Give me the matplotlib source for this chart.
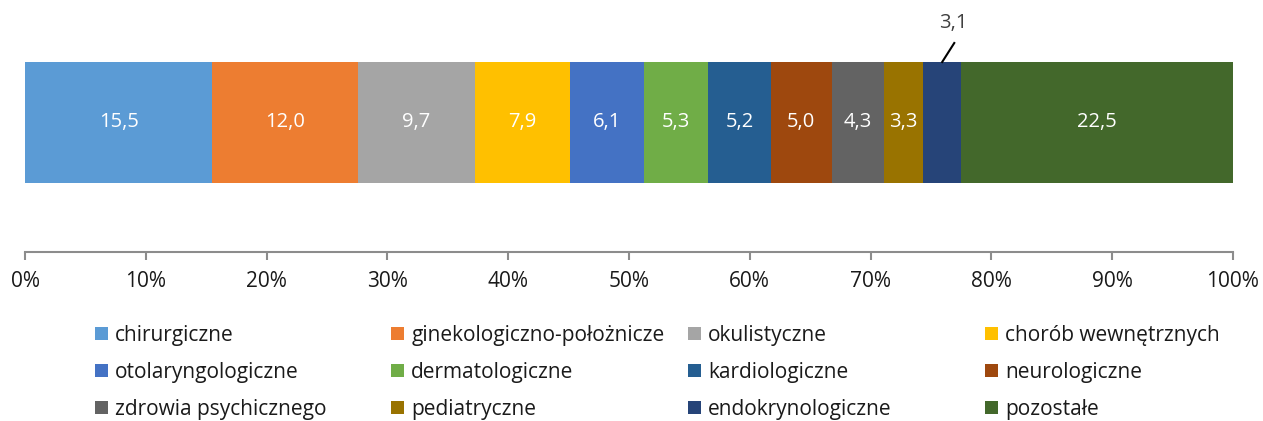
import matplotlib.pyplot as plt
from matplotlib.patches import Patch
from matplotlib.ticker import PercentFormatter

# ---------- Data ----------
categories = ["chirurgiczne", "ginekologiczno-położnicze", "okulistyczne", "chorób wewnętrznych",
              "otolaryngologiczne", "dermatologiczne", "kardiologiczne", "neurologiczne",
              "zdrowia psychicznego", "pediatryczne", "endokrynologiczne", "pozostałe"]
values = [15.5, 12.0, 9.7, 7.9, 6.1, 5.3, 5.2, 5.0, 4.3, 3.3, 3.1, 22.5]
colors = ["#5B9BD5", "#ED7D31", "#A5A5A5", "#FFC000", "#4472C4", "#70AD47",
          "#255E91", "#9E480E", "#636363", "#997300", "#264478", "#43682B"]
xticks = [0, 10, 20, 30, 40, 50, 60, 70, 80, 90, 100]

plt.rcParams['font.family'] = ['Open Sans', 'DejaVu Sans']

W, H = 1263, 421
fig = plt.figure(figsize=(W / 100, H / 100), dpi=100)
# axes: x from px 25..1233, y from px 0..252 (bottom spine at 252)
ax = fig.add_axes([25 / W, (H - 252) / H, (1233 - 25) / W, 252 / H])
ax.set_xlim(0, 100)
ax.set_ylim(252, 0)  # pixel-like units, inverted

total = sum(values)
left = 0.0
for cat, v, c in zip(categories, values, colors):
    share = v / total * 100
    ax.barh(122.5, share, left=left, height=121, color=c, edgecolor='none')
    lab = f"{v:.1f}".replace('.', ',')
    if v < 3.2:
        # small segment: label above with a leader line
        cx = left + share / 2
        ax.plot([cx, cx + 1.0], [62, 43], color='black', lw=1.5, clip_on=False)
        ax.text(cx + 0.95, 23, lab, ha='center', va='center', fontsize=14.5,
                color='#404040', clip_on=False)
    else:
        ax.text(left + share / 2, 122.5, lab, ha='center', va='center',
                fontsize=14.5, color='white')
    left += share

for s in ['top', 'right', 'left']:
    ax.spines[s].set_visible(False)
ax.spines['bottom'].set_color('#8C8C8C')
ax.spines['bottom'].set_linewidth(1.5)
ax.set_yticks([])
ax.set_xticks(xticks)
ax.xaxis.set_major_formatter(PercentFormatter(decimals=0))
ax.tick_params(axis='x', direction='out', length=6, width=1.5, color='#8C8C8C',
               labelsize=15, labelcolor='#1a1a1a', pad=8)

# ---------- Legend: 4 fixed columns ----------
col_x = [95, 391, 688, 985]
for ci in range(4):
    idx = [ci, ci + 4, ci + 8]
    handles = [Patch(facecolor=colors[i], edgecolor='none') for i in idx]
    labels = [categories[i] for i in idx]
    leg = fig.legend(handles, labels, loc='upper left',
                     bbox_to_anchor=(col_x[ci] / W, (H - 325) / H),
                     frameon=False, fontsize=15, handlelength=0.63, handleheight=0.63,
                     handletextpad=0.34, labelspacing=0.76, borderaxespad=0,
                     borderpad=0)
    for t in leg.get_texts():
        t.set_color('#1a1a1a')

fig.savefig("out.png", dpi=100)
